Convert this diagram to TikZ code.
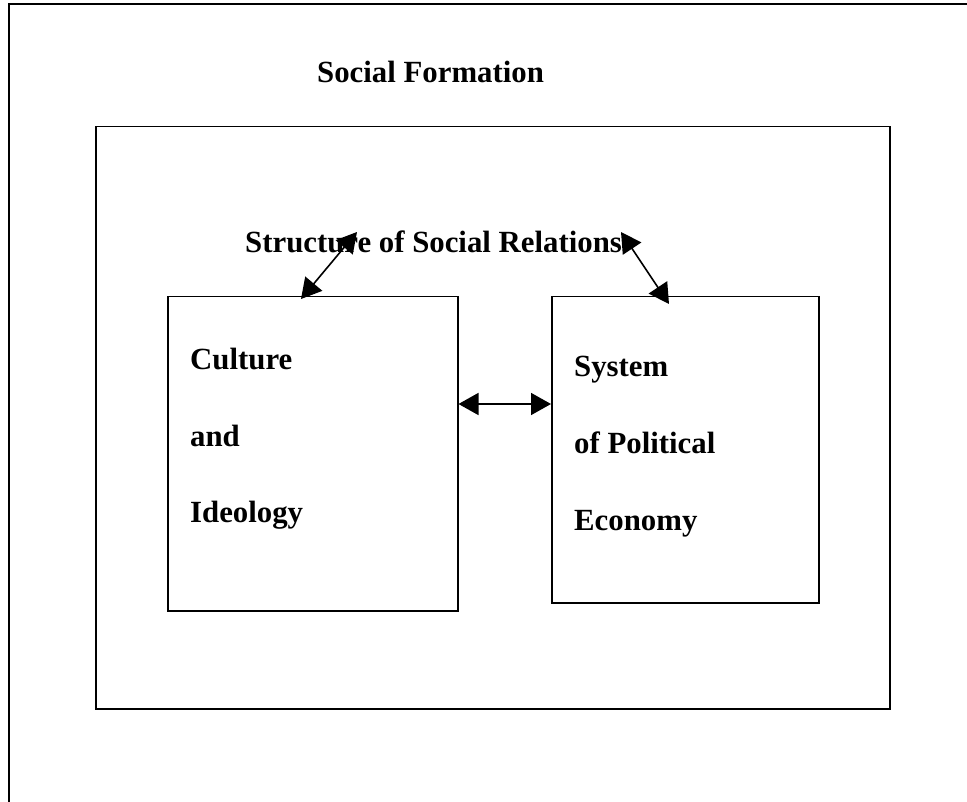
\documentclass[tikz,border=0pt]{standalone}
\usepackage{fontspec}
\setmainfont{Liberation Serif}
\usetikzlibrary{arrows.meta}
\tikzset{
  boxline/.style={draw, line width=1.5pt, inner sep=0pt, anchor=north west},
  label/.style={font=\fontsize{30.8}{36}\selectfont\bfseries, anchor=base west, inner sep=0pt},
  link/.style={line width=1.6pt, {Triangle[length=20pt,width=22pt]}-{Triangle[length=20pt,width=22pt]}}
}
\begin{document}
\begin{tikzpicture}[x=1pt,y=-1pt]
  \useasboundingbox (0,0) rectangle (967,802);
  \draw[line width=2.2pt] (9,4) rectangle (971,803);
  \node[label] (formation) at (317,83) {Social Formation};
  \node[boxline, minimum width=794pt, minimum height=582pt] (innerbox) at (95,126) {};
  \node[label] (relations) at (245,253) {Structure of Social Relations};
  \node[boxline, minimum width=290pt, minimum height=314pt] (culturebox) at (167,296) {};
  \node[boxline, minimum width=267pt, minimum height=306pt] (economybox) at (551,296) {};
  % text in the boxes
  \node[label] (culture) at (190,370) {Culture};
  \node[label] (and) at (190,446) {and};
  \node[label] (ideology) at (190,522) {Ideology};
  \node[label] (system) at (574,377) {System};
  \node[label] (political) at (574,453) {of Political};
  \node[label] (economy) at (574,530) {Economy};
  % arrows
  \coordinate (relleft) at (357,232);
  \coordinate (relright) at (621,232);
  \coordinate (culturetop) at (301,299);
  \coordinate (economytop) at (669,304);
  \draw[link] (relleft) -- (culturetop);
  \draw[link] (relright) -- (economytop);
  \draw[link] (culturebox.east |- 0,404) -- (economybox.west |- 0,404);
\end{tikzpicture}
\end{document}
